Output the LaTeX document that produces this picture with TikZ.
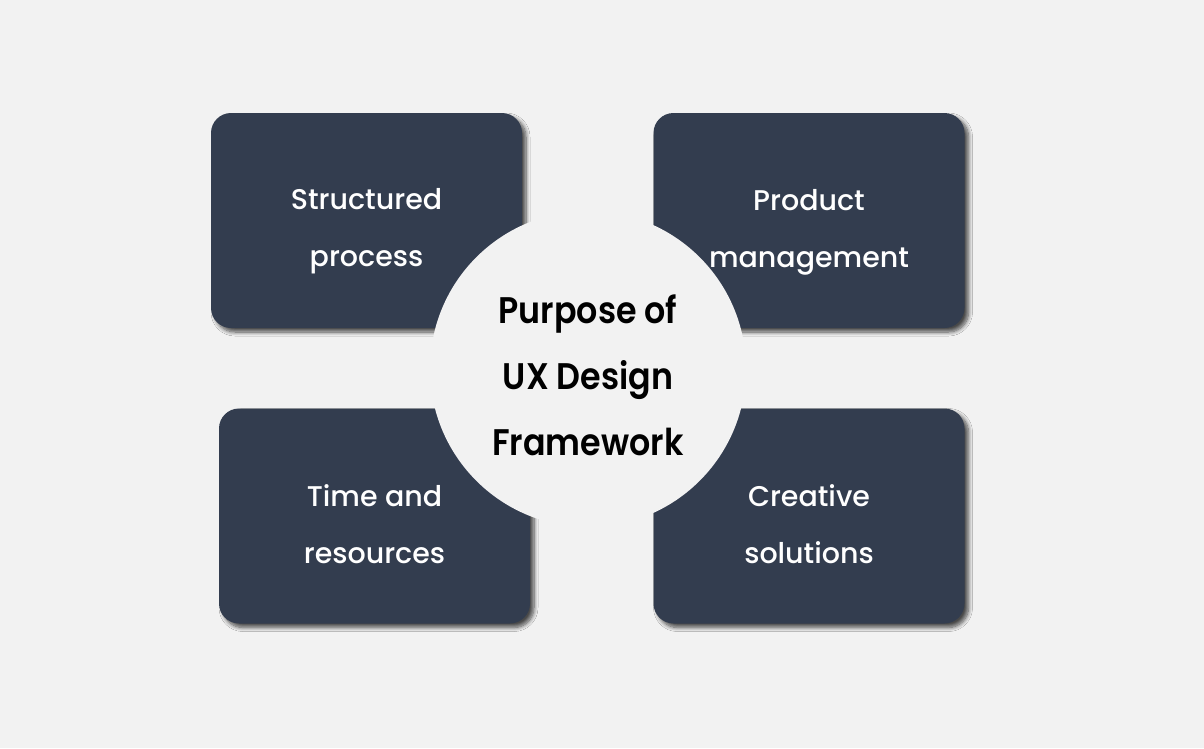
\documentclass[tikz,border=0pt]{standalone}
\usepackage{fontspec}
\setmainfont{Poppins}
\newfontfamily\medfont{Poppins Medium}
\newfontfamily\hubfont[FakeStretch=0.9]{Poppins SemiBold}
\usetikzlibrary{shadows.blur}
\definecolor{bg}{HTML}{F2F2F2}
\definecolor{navy}{HTML}{333D4F}
\begin{document}
\begin{tikzpicture}[x=1pt,y=-1pt,
  card/.style={fill=navy, rounded corners=20pt, minimum width=311pt, minimum height=215pt, inner sep=0pt,
    blur shadow={shadow xshift=4pt, shadow yshift=-4pt, shadow blur radius=4pt, shadow blur steps=8, shadow opacity=70}},
  cardtext/.style={text=white, font=\medfont\fontsize{28.5}{57}\selectfont, align=center, anchor=base, inner sep=0pt},
  hub/.style={circle, fill=bg, minimum size=316pt, inner sep=0pt},
  hubtext/.style={text=black, font=\hubfont\fontsize{37}{66}\selectfont, align=center, anchor=base, inner sep=0pt}]
\useasboundingbox (0,0) rectangle (1204,748);
\fill[bg] (0,0) rectangle (1204,748);
\node[card] (b1) at (366.5,220.5) {};
\node[card] (b2) at (809,220.5) {};
\node[card] (b3) at (374.5,516) {};
\node[card] (b4) at (809,516) {};
\node[cardtext] (t1) at (366.5,266) {Structured\\process};
\node[cardtext] (t2) at (809,267) {Product\\management};
\node[cardtext] (t3) at (374.5,563) {Time and\\resources};
\node[cardtext] (t4) at (809,563) {Creative\\solutions};
\node[hub] (c) at (588,369) {};
\node[hubtext] (ct) at (588,455) {Purpose of\\UX Design\\Framework};
\end{tikzpicture}
\end{document}
